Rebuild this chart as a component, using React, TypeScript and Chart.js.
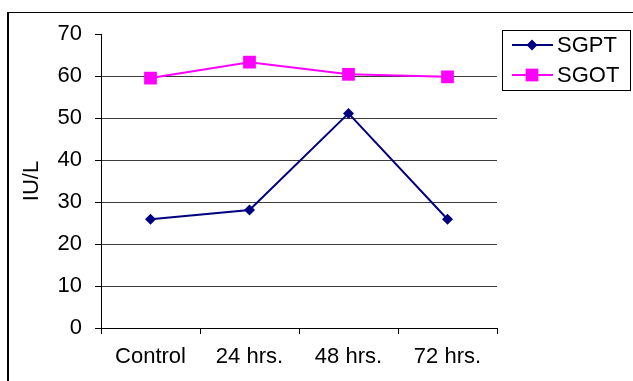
import React, { useEffect, useRef } from "react";
import { Chart, registerables } from "chart.js";

Chart.register(...registerables);

const categories = ["Control", "24 hrs.", "48 hrs.", "72 hrs."];
const sgptValues = [25.9, 28.1, 51.1, 25.9];
const sgotValues = [59.5, 63.3, 60.4, 59.8];
const yMin = 0;
const yMax = 70;
const yStep = 10;

const FONT = '"Liberation Sans", Arial, sans-serif';

// Boxed legend on the right: line sample with its marker, then the label
const boxLegend = {
  id: "boxLegend",
  afterDraw(chart: any) {
    const ctx: CanvasRenderingContext2D = chart.ctx;
    ctx.save();
    ctx.strokeStyle = "#000";
    ctx.lineWidth = 1;
    ctx.strokeRect(502.5, 30.5, 128, 60);
    chart.data.datasets.forEach((ds: any, i: number) => {
      const y = 45 + i * 30;
      ctx.strokeStyle = ds.borderColor;
      ctx.lineWidth = 2;
      ctx.beginPath();
      ctx.moveTo(512, y);
      ctx.lineTo(553, y);
      ctx.stroke();
      ctx.fillStyle = ds.pointBackgroundColor;
      const cx = 532;
      if (ds.pointStyle === "rectRot") {
        const r = ds.pointRadius;
        ctx.beginPath();
        ctx.moveTo(cx - r, y);
        ctx.lineTo(cx, y - r);
        ctx.lineTo(cx + r, y);
        ctx.lineTo(cx, y + r);
        ctx.closePath();
        ctx.fill();
      } else {
        const h = ds.pointRadius * Math.SQRT1_2;
        ctx.fillRect(cx - h, y - h, 2 * h, 2 * h);
      }
      ctx.fillStyle = "#000";
      ctx.font = `22px ${FONT}`;
      ctx.textBaseline = "middle";
      ctx.textAlign = "left";
      ctx.fillText(ds.label, 557, y + 1);
    });
    ctx.restore();
  },
};

export default function App() {
  const canvasRef = useRef<HTMLCanvasElement | null>(null);

  useEffect(() => {
    if (!canvasRef.current) return;
    const chart = new Chart(canvasRef.current, {
      type: "line",
      data: {
        labels: categories,
        datasets: [
          {
            label: "SGPT",
            data: sgptValues,
            borderColor: "#000080",
            backgroundColor: "#000080",
            pointBackgroundColor: "#000080",
            pointBorderColor: "#000080",
            pointStyle: "rectRot",
            pointRadius: 5.5,
            pointBorderWidth: 0,
            borderWidth: 2,
            tension: 0,
          },
          {
            label: "SGOT",
            data: sgotValues,
            borderColor: "#FF00FF",
            backgroundColor: "#FF00FF",
            pointBackgroundColor: "#FF00FF",
            pointBorderColor: "#FF00FF",
            pointStyle: "rect",
            pointRadius: 9,
            pointBorderWidth: 0,
            borderWidth: 2,
            tension: 0,
          },
        ],
      },
      options: {
        animation: false,
        responsive: false,
        layout: { padding: { left: 0, top: 34, right: 136, bottom: 0 } },
        plugins: {
          legend: { display: false },
          tooltip: { enabled: false },
        },
        scales: {
          x: {
            offset: true,
            grid: {
              offset: true,
              drawOnChartArea: false,
              drawTicks: true,
              tickLength: 6,
              tickColor: "#000",
            },
            border: { color: "#000", width: 1 },
            ticks: {
              color: "#000",
              font: { family: FONT, size: 22 },
              padding: 10,
              maxRotation: 0,
            },
            afterFit: (s: any) => {
              s.height = 53;
            },
          },
          y: {
            min: yMin,
            max: yMax,
            ticks: {
              stepSize: yStep,
              color: "#000",
              font: { family: FONT, size: 22 },
              padding: 13,
            },
            grid: {
              color: (c: any) => (c.tick && c.tick.value === yMax ? "rgba(0,0,0,0)" : "#3c3c3c"),
              tickColor: "#000",
              tickLength: 6,
              lineWidth: 1,
            },
            border: { color: "#000", width: 1 },
            title: {
              display: true,
              text: "IU/L",
              color: "#000",
              font: { family: FONT, size: 22 },
              padding: { top: 19, bottom: 0 },
            },
            afterFit: (s: any) => {
              s.width = 101;
            },
          },
        },
      },
      plugins: [boxLegend],
    });
    return () => chart.destroy();
  }, []);

  return (
    <div style={{ position: "fixed", left: 0, top: 0, width: 633, height: 381, background: "#fff", overflow: "hidden" }}>
      <div
        style={{
          position: "absolute",
          left: 7,
          top: 12,
          width: 700,
          height: 420,
          borderTop: "1px solid #000",
          borderLeft: "2px solid #000",
        }}
      />
      <canvas ref={canvasRef} width={633} height={381} style={{ position: "absolute", left: 0, top: 0 }} />
    </div>
  );
}
